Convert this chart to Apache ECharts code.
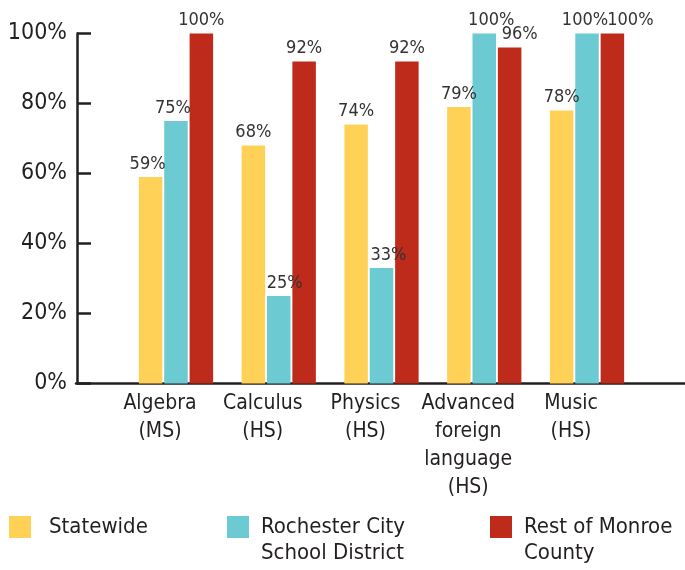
<!DOCTYPE html>
<html>
<head>
<meta charset="utf-8">
<script src="https://cdn.jsdelivr.net/npm/echarts@6/dist/echarts.min.js"></script>
<style>
  html, body { margin: 0; padding: 0; background: #fff; }
  #chart { width: 685px; height: 570px; }
</style>
</head>
<body>
<div id="chart"></div>
<script>
var categories = ['Algebra\n(MS)', 'Calculus\n(HS)', 'Physics\n(HS)', 'Advanced\nforeign\nlanguage\n(HS)', 'Music\n(HS)'];
var statewide = [59, 68, 74, 79, 78];
var rochester = [75, 25, 33, 100, 100];
var monroe = [100, 92, 92, 96, 100];
var yTicks = [0, 20, 40, 60, 80, 100];

var FONT = "'Liberation Sans Narrow', 'DejaVu Sans Condensed', sans-serif";
var INK = '#231f20';

// horizontal nudges of value labels (px), as placed in the original
var shiftState = [-3, 0, 0, 0, 0];
var shiftRoch = [-3, 6, 7, 7, -2];
var shiftMonroe = [0, 0, 0, 10, 18];

(function () {
  var myChart = echarts.init(document.getElementById('chart'));

  var barLabel = {
    show: true,
    position: 'top',
    distance: 4,
    formatter: '{c}%',
    fontFamily: FONT,
    fontSize: 18,
    color: '#333'
  };

  function withShift(values, shifts) {
    return values.map(function (v, i) {
      return { value: v, label: { offset: [shifts[i], 0] } };
    });
  }

  // multi-line names get a leading blank line so their first line sits beside the swatch
  function legendAt(name, left, top, padLeft, twoLines) {
    return {
      data: [name],
      left: left,
      top: top,
      padding: 0,
      itemWidth: 22,
      itemHeight: 22,
      icon: 'rect',
      selectedMode: false,
      formatter: function (n) { return twoLines ? '\n' + n : n; },
      textStyle: {
        fontFamily: FONT,
        fontSize: 22,
        lineHeight: 26,
        color: INK,
        padding: [0, 0, 0, padLeft]
      }
    };
  }

  var option = {
    animation: false,
    legend: [
      legendAt('Statewide', 9, 514, 13, false),
      legendAt('Rochester City\nSchool District', 227, 488, 7, true),
      legendAt('Rest of Monroe\nCounty', 490, 488, 7, true)
    ],
    grid: [
      { left: 124.6, right: 46.6, top: 33.5, bottom: 186.5 },
      { left: 76, right: 0, top: 33.5, bottom: 186.5 }
    ],
    xAxis: [
      {
        type: 'category',
        gridIndex: 0,
        data: categories,
        axisLine: { show: false },
        axisTick: { show: false },
        axisLabel: {
          interval: 0,
          margin: 6,
          padding: [0, 32, 0, 0],
          fontFamily: FONT,
          fontSize: 21,
          lineHeight: 28,
          color: INK
        }
      },
      {
        type: 'value',
        gridIndex: 1,
        min: 0,
        max: 1,
        axisLine: { show: true, lineStyle: { color: INK, width: 2.5 } },
        axisTick: { show: false },
        axisLabel: { show: false },
        splitLine: { show: false }
      }
    ],
    yAxis: [
      {
        type: 'value',
        gridIndex: 0,
        min: yTicks[0],
        max: yTicks[yTicks.length - 1],
        interval: 20,
        offset: 47.6,
        axisLine: { show: true, lineStyle: { color: INK, width: 2.5 } },
        axisTick: { show: true, inside: true, length: 14, lineStyle: { color: INK, width: 2.5 } },
        splitLine: { show: false },
        axisLabel: {
          formatter: '{value}%',
          margin: 10,
          fontFamily: FONT,
          fontSize: 23,
          color: INK
        }
      },
      {
        type: 'value',
        gridIndex: 1,
        show: false
      }
    ],
    series: [
      {
        name: 'Statewide',
        type: 'bar',
        data: withShift(statewide, shiftState),
        barWidth: 23.5,
        barGap: '8%',
        itemStyle: { color: '#ffd257' },
        label: barLabel
      },
      {
        name: 'Rochester City\nSchool District',
        type: 'bar',
        data: withShift(rochester, shiftRoch),
        barWidth: 23.5,
        barGap: '8%',
        itemStyle: { color: '#6ccbd2' },
        label: barLabel
      },
      {
        name: 'Rest of Monroe\nCounty',
        type: 'bar',
        data: withShift(monroe, shiftMonroe),
        barWidth: 23.5,
        barGap: '8%',
        itemStyle: { color: '#bf2b1a' },
        label: barLabel
      }
    ]
  };

  myChart.setOption(option);
  window.addEventListener('resize', function () {
    myChart.resize();
  });
})();
</script>
</body>
</html>
